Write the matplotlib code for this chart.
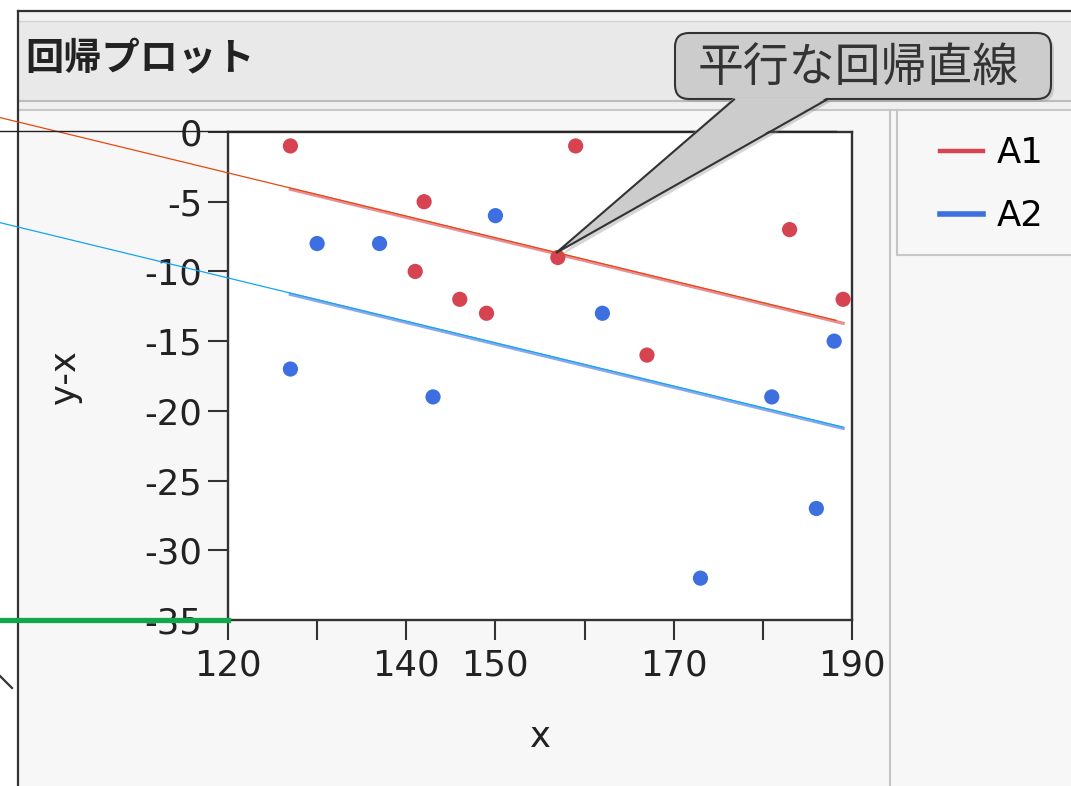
import numpy as np
import matplotlib.pyplot as plt
import matplotlib.transforms as mtransforms
from matplotlib.patches import Rectangle, FancyBboxPatch, Polygon
from matplotlib.lines import Line2D

plt.rcParams['font.family'] = ['DejaVu Sans', 'Noto Sans CJK JP']

# ===== データ (x, y-x) =====
x_a1 = [127, 141, 142, 146, 149, 157, 159, 167, 183, 189]
d_a1 = [-1, -10, -5, -12, -13, -9, -1, -16, -7, -12]
x_a2 = [127, 130, 137, 143, 150, 162, 173, 181, 186, 188]
d_a2 = [-17, -8, -8, -19, -6, -13, -32, -19, -27, -15]
groups = ['A1', 'A2']

x_ticks = [120, 130, 140, 150, 160, 170, 180, 190]
x_ticklabels = ['120', '', '140', '150', '', '170', '', '190']
y_ticks = [0, -5, -10, -15, -20, -25, -30, -35]
y_ticklabels = ['0', '-5', '-10', '-15', '-20', '-25', '-30', '-35']

title = '回帰プロット'
callout = '平行な回帰直線'

RED = '#d64452'
BLUE = '#3d6fe0'
FS = 25.5

W, H = 1071, 786
fig = plt.figure(figsize=(W / 100, H / 100), dpi=100)


def px(x0, y0, x1, y1):
    # ピクセル座標の箱 -> figure 座標
    return [x0 / W, 1 - y1 / H, (x1 - x0) / W, (y1 - y0) / H]


# ===== 背景 (JMP の枠) =====
bg = fig.add_axes([0, 0, 1, 1], zorder=0)
bg.set_xlim(0, W)
bg.set_ylim(H, 0)
bg.axis('off')
bg.add_patch(Rectangle((18, 11), W, H, fc='#f7f7f7', ec='none'))
bg.add_patch(Rectangle((18, 12), W, 9, fc='#f3f3f3', ec='none'))
bg.add_patch(Rectangle((18, 21), W, 79, fc='#e9e9e9', ec='none'))
bg.add_patch(Rectangle((18, 101), W, 8, fc='#efefef', ec='none'))
bg.plot([18, W], [20.5, 20.5], color='#d4d4d4', lw=1)
bg.plot([18, W], [100.5, 100.5], color='#bdbdbd', lw=1.5)
bg.plot([18, W], [109.5, 109.5], color='#c8c8c8', lw=1.5)
bg.plot([18, 18], [11, H], color='#333333', lw=1.6)
bg.plot([18, W], [11, 11], color='#333333', lw=1.6)
bg.plot([890, 890], [110, H], color='#c4c4c4', lw=1.5)
bg.plot([897, 897], [110, 255], color='#c4c4c4', lw=1.5)
bg.plot([897, W], [255, 255], color='#c8c8c8', lw=1.5)
bg.plot([0, 12], [676, 688], color='#333333', lw=1.6)
bg.text(25, 58, title, fontsize=27.5, fontweight='bold', color='#222222',
        family=['Noto Sans CJK JP'], va='center', ha='left')

# ===== 回帰プロット =====
ax = fig.add_axes(px(228, 132, 852, 620), zorder=1)
ax.set_facecolor('white')
ax.set_xlim(120, 190)
ax.set_ylim(-35, 0)

ax.scatter(x_a1, d_a1, s=120, color=RED, edgecolors='none', zorder=3)
ax.scatter(x_a2, d_a2, s=120, color=BLUE, edgecolors='none', zorder=3)

# 平行な回帰直線 (共通の傾き + 群ごとの切片)
xs = np.array(x_a1 + x_a2, dtype=float)
ds = np.array(d_a1 + d_a2, dtype=float)
g2 = np.array([0] * len(x_a1) + [1] * len(x_a2), dtype=float)
X = np.column_stack([np.ones_like(xs), xs, g2])
b0, b1, b2 = np.linalg.lstsq(X, ds, rcond=None)[0]

xr = np.array([xs.min(), xs.max()])
ax.plot(xr, b0 + b1 * xr, color=RED, lw=2.4, alpha=0.6, zorder=2)
ax.plot(xr, b0 + b2 + b1 * xr, color=BLUE, lw=2.4, alpha=0.6, zorder=2)

# 補助線 (画面の左端まで延長, 少し上にずらす)
up = mtransforms.offset_copy(ax.transData, fig=fig, x=0, y=1.2, units='dots')
x_left = 120 - 228 / 624 * 70
xe = np.array([x_left, 188.2])
ax.plot(xe, b0 + b1 * xe, color='#e8470f', lw=0.9, clip_on=False, zorder=4, transform=up)
xe = np.array([x_left, 189.0])
ax.plot(xe, b0 + b2 + b1 * xe, color='#14a5f0', lw=0.9, clip_on=False, zorder=4, transform=up)
ax.plot([x_left, 188.2], [0.05, 0.05], color='#222222', lw=1.0, clip_on=False, zorder=4)
ax.plot([x_left, 120], [-35, -35], color='#10a84c', lw=3.8, clip_on=False, zorder=5)

ax.set_xticks(x_ticks)
ax.set_xticklabels(x_ticklabels)
ax.set_yticks(y_ticks)
ax.set_yticklabels(y_ticklabels)
ax.tick_params(direction='out', length=14.5, width=1.5, color='#333333',
               labelsize=FS, labelcolor='#222222')
ax.tick_params(axis='x', pad=6)
ax.tick_params(axis='y', pad=4)
for s in ax.spines.values():
    s.set_linewidth(1.7)
    s.set_color('#333333')

ax.set_xlabel('x', fontsize=FS, color='#222222', va='center')
ax.xaxis.set_label_coords(0.5, -0.24)
ax.set_ylabel('y-x', fontsize=FS, color='#222222', va='center')
ax.yaxis.set_label_coords(-0.261, 0.498)

handles = [Line2D([], [], color=RED, lw=3.2), Line2D([], [], color=BLUE, lw=4.0)]
ax.legend(handles, groups, loc='upper left', bbox_to_anchor=(940 / W, 1 - 136 / H),
          bbox_transform=fig.transFigure, frameon=False, fontsize=FS,
          handlelength=1.2, handletextpad=0.4, borderpad=0, borderaxespad=0,
          labelspacing=0.82)

# ===== 吹き出し =====
ov = fig.add_axes([0, 0, 1, 1], zorder=5)
ov.set_xlim(0, W)
ov.set_ylim(H, 0)
ov.axis('off')
ov.patch.set_alpha(0)
ov.add_patch(Polygon([(737, 101), (560, 256), (832, 101)], fc='#888888', ec='none', alpha=0.35))
ov.add_patch(FancyBboxPatch((678, 36), 376, 66, boxstyle='round,pad=0,rounding_size=14',
                            fc='#999999', ec='none', alpha=0.4))
ov.add_patch(FancyBboxPatch((675, 33), 376, 66, boxstyle='round,pad=0,rounding_size=14',
                            fc='#cccccc', ec='#333333', lw=1.5))
ov.add_patch(Polygon([(734, 97.5), (556, 253), (827, 97.5)], fc='#cccccc', ec='none'))
ov.plot([734, 556, 827], [99.5, 253, 99.5], color='#333333', lw=1.5, solid_joinstyle='miter')
ov.text(858, 68, callout, fontsize=33, color='#333333', family=['Noto Sans CJK JP'],
        ha='center', va='center')

fig.savefig('out.png', dpi=100)
